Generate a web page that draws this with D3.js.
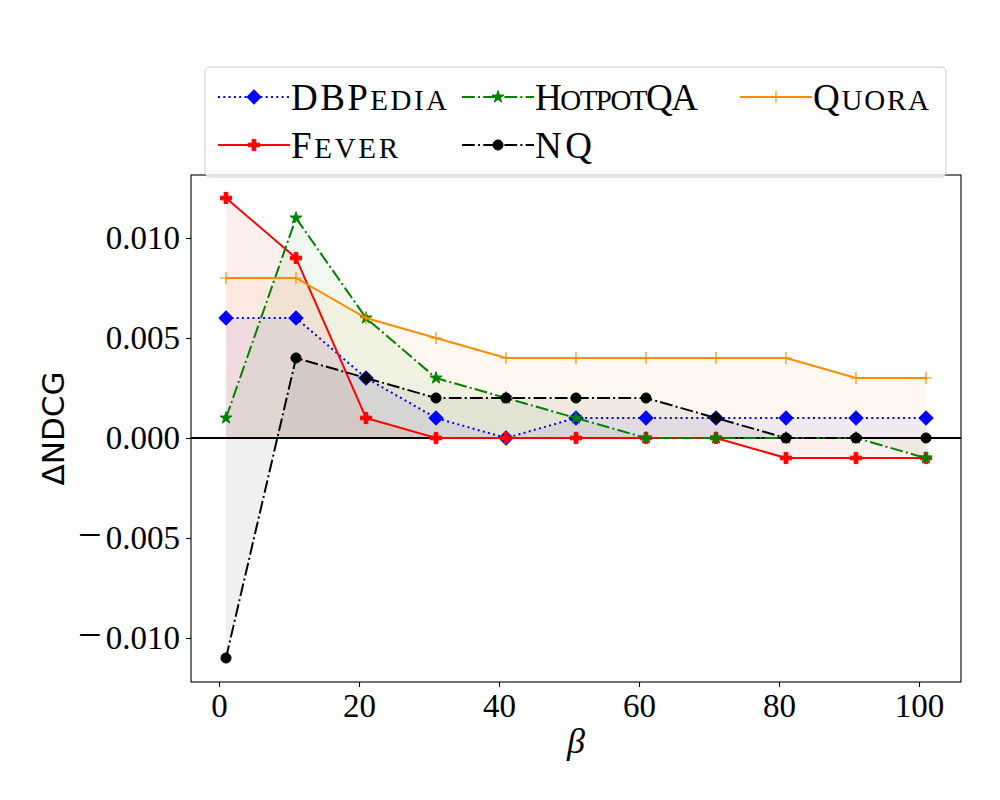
<!DOCTYPE html>
<html>
<head>
<meta charset="utf-8">
<script src="https://cdn.jsdelivr.net/npm/d3@7"></script>
<style>
  body { margin: 0; background: #fff; }
  svg text { font-family: "Liberation Serif", "DejaVu Serif", serif; }
</style>
</head>
<body>
<svg id="chart"></svg>
<script>
const width = 1000, height = 800

// beta values on the x axis
const betas = [1, 11, 21, 31, 41, 51, 61, 71, 81, 91, 101]
const xTicks = [0, 20, 40, 60, 80, 100]
const yTicks = [-0.010, -0.005, 0.000, 0.005, 0.010]

// delta NDCG per dataset
const dbpedia  = [0.006, 0.006, 0.003, 0.001, 0.000, 0.001, 0.001, 0.001, 0.001, 0.001, 0.001]
const fever    = [0.012, 0.009, 0.001, 0.000, 0.000, 0.000, 0.000, 0.000, -0.001, -0.001, -0.001]
const hotpotqa = [0.001, 0.011, 0.006, 0.003, 0.002, 0.001, 0.000, 0.000, 0.000, 0.000, -0.001]
const nq       = [-0.011, 0.004, 0.003, 0.002, 0.002, 0.002, 0.002, 0.001, 0.000, 0.000, 0.000]
const quora    = [0.008, 0.008, 0.006, 0.005, 0.004, 0.004, 0.004, 0.004, 0.004, 0.003, 0.003]

const seriesNames = ['DBPedia', 'Fever', 'HotpotQA', 'NQ', 'Quora']
const seriesValues = [dbpedia, fever, hotpotqa, nq, quora]

// caps part / small-caps part of each legend label (LaTeX \textsc)
const labelParts = {
  DBPedia:  [['DBP', 0], ['edia', 1]],
  Fever:    [['F', 0], ['ever', 1]],
  HotpotQA: [['H', 0], ['otpot', 1], ['QA', 0]],
  NQ:       [['NQ', 0]],
  Quora:    [['Q', 0], ['uora', 1]]
}

const styles = {
  DBPedia:  { color: '#0000ff', dash: '2,3.3', marker: 'diamond', textW: 156 },
  Fever:    { color: '#ff0000', dash: null, marker: 'P', textW: 107 },
  HotpotQA: { color: '#008000', dash: '12.8,3.2,2,3.2', marker: 'star', textW: 163 },
  NQ:       { color: '#000000', dash: '12.8,3.2,2,3.2', marker: 'circle', textW: 57 },
  Quora:    { color: '#ff8c00', dash: null, marker: 'plus', textW: 116 }
}

const margin = { top: 175, right: 39, bottom: 118, left: 191 }
const innerW = width - margin.left - margin.right
const innerH = height - margin.top - margin.bottom

const svg = d3.select('#chart').attr('width', width).attr('height', height)

const x = d3.scaleLinear().domain([-4, 106]).range([0, innerW])
const y = d3.scaleLinear().domain([-0.0122, 0.01315]).range([innerH, 0])

const g = svg.append('g').attr('transform', `translate(${margin.left},${margin.top})`)

g.append('defs').append('clipPath').attr('id', 'clip')
  .append('rect').attr('width', innerW).attr('height', innerH)

const plot = g.append('g').attr('clip-path', 'url(#clip)')

const data = seriesNames.map((name, i) => ({
  name,
  points: betas.map((b, j) => ({ b, v: seriesValues[i][j] }))
}))

const area = d3.area().x(d => x(d.b)).y0(y(0)).y1(d => y(d.v))
const line = d3.line().x(d => x(d.b)).y(d => y(d.v))

const markerPath = kind => {
  if (kind === 'diamond') return d3.symbol(d3.symbolSquare, 100)()
  if (kind === 'P') return d3.symbol(d3.symbolCross, 70)()
  if (kind === 'star') return d3.symbol(d3.symbolStar, 45)()
  if (kind === 'circle') return d3.symbol(d3.symbolCircle, 80)()
  return 'M-6,0L6,0M0,-6L0,6'
}

const drawMarker = (sel, kind, color) => {
  sel.attr('d', markerPath(kind))
    .attr('fill', kind === 'plus' ? 'none' : color)
    .attr('stroke', color)
    .attr('stroke-width', kind === 'plus' ? 1.2 : 1)
}

data.forEach(s => {
  const st = styles[s.name]
  plot.append('path').datum(s.points)
    .attr('d', area).attr('fill', st.color).attr('fill-opacity', 0.06)
})

// zero reference line
plot.append('line')
  .attr('x1', 0).attr('x2', innerW)
  .attr('y1', y(0)).attr('y2', y(0))
  .attr('stroke', '#000').attr('stroke-width', 2)

data.forEach(s => {
  const st = styles[s.name]
  plot.append('path').datum(s.points)
    .attr('d', line).attr('fill', 'none')
    .attr('stroke', st.color).attr('stroke-width', 2)
    .attr('stroke-dasharray', st.dash)
  plot.selectAll(null).data(s.points).enter().append('path')
    .attr('transform', d => `translate(${x(d.b)},${y(d.v)})` + (st.marker === 'diamond' ? ' rotate(45)' : ''))
    .call(drawMarker, st.marker, st.color)
})

// axes
const xAxis = g.append('g').attr('transform', `translate(0,${innerH})`)
  .call(d3.axisBottom(x).tickValues(xTicks).tickSize(5).tickPadding(4).tickFormat(d3.format('d')))
const yAxis = g.append('g')
  .call(d3.axisLeft(y).tickValues(yTicks).tickSize(5).tickPadding(6).tickFormat(d => d3.format('.3f')(Math.abs(d))))

;[xAxis, yAxis].forEach(a => {
  a.select('.domain').remove()
  a.selectAll('line').attr('stroke', '#000').attr('stroke-width', 1.1)
  a.selectAll('text').attr('font-size', 33).attr('fill', '#000')
    .attr('font-family', '"Liberation Serif", serif')
})
xAxis.selectAll('text').attr('dy', '0.8em')

// wide TeX-style minus sign in front of negative labels
yAxis.selectAll('.tick text').filter(d => d < 0).each(function () {
  const t = d3.select(this)
  const digits = t.text()
  t.text(null)
  t.append('tspan').attr('font-size', 42).text('\u2212')
  t.append('tspan').attr('dx', 4).text(digits)
})

g.append('rect').attr('width', innerW).attr('height', innerH)
  .attr('fill', 'none').attr('stroke', '#000').attr('stroke-width', 1.1)

// axis titles
svg.append('text')
  .attr('x', margin.left + x(51)).attr('y', 753)
  .attr('text-anchor', 'middle').attr('font-size', 36).attr('font-style', 'italic')
  .text('\u03b2')

svg.append('text')
  .attr('transform', `translate(64,${margin.top + innerH / 2}) rotate(-90)`)
  .attr('text-anchor', 'middle').attr('font-size', 31)
  .style('font-family', '"DejaVu Sans", sans-serif')
  .text('\u0394NDCG')

// legend
const legend = svg.append('g')
legend.append('rect')
  .attr('x', 205).attr('y', 67).attr('width', 741).attr('height', 110)
  .attr('rx', 5).attr('fill', '#fff').attr('fill-opacity', 0.8)
  .attr('stroke', '#cccccc').attr('stroke-width', 1)

const legendOrder = ['DBPedia', 'Fever', 'HotpotQA', 'NQ', 'Quora']
const colX = [218, 462, 740]
const rowY = [97, 145]
legendOrder.forEach((name, i) => {
  const st = styles[name]
  const cx = colX[Math.floor(i / 2)], cy = rowY[i % 2]
  const item = legend.append('g').attr('transform', `translate(${cx},${cy})`)
  item.append('line').attr('x1', 0).attr('x2', 72).attr('y1', 0).attr('y2', 0)
    .attr('stroke', st.color).attr('stroke-width', 2).attr('stroke-dasharray', st.dash)
  item.append('path')
    .attr('transform', 'translate(36,0)' + (st.marker === 'diamond' ? ' rotate(45)' : ''))
    .call(drawMarker, st.marker, st.color)
  const txt = item.append('text').attr('x', 73).attr('y', 13)
    .attr('textLength', st.textW).attr('lengthAdjust', 'spacing')
  labelParts[name].forEach(([s, small]) => {
    txt.append('tspan').attr('font-size', small ? 29 : 37)
      .text(small ? s.toUpperCase() : s)
  })
})
</script>
</body>
</html>
